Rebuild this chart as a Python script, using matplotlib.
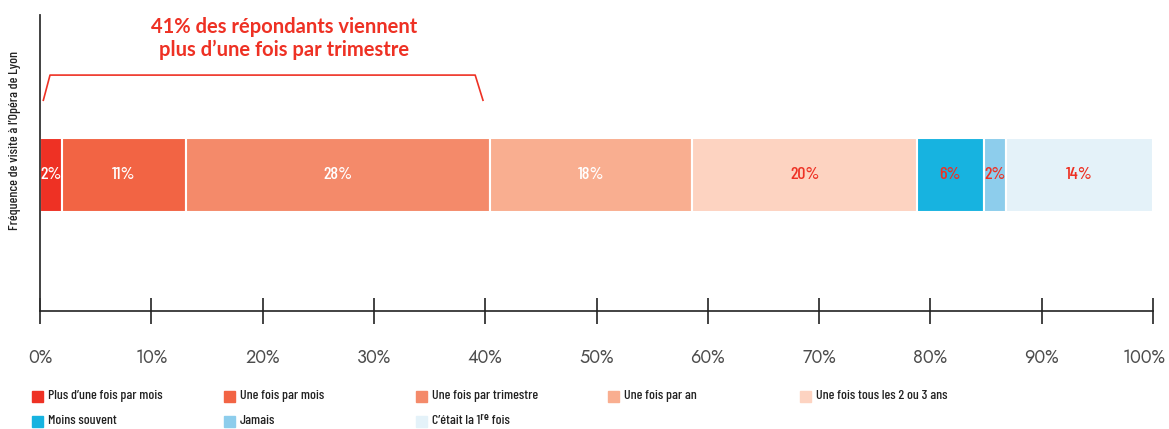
import matplotlib
matplotlib.use("Agg")
import matplotlib.pyplot as plt
from matplotlib.patches import Rectangle
from matplotlib.transforms import ScaledTranslation

# data
categories = ["Plus d\u2019une fois par mois", "Une fois par mois", "Une fois par trimestre",
              "Une fois par an", "Une fois tous les 2 ou 3 ans", "Moins souvent",
              "Jamais", "C\u2019\u00e9tait la 1\u02b3\u1d49 fois"]
values = [2.0, 11.1, 27.3, 18.2, 20.2, 6.0, 2.0, 13.2]
value_labels = ["2%", "11%", "28%", "18%", "20%", "6%", "2%", "14%"]
colors = ["#EE3124", "#F26444", "#F48A6A", "#F9AE90", "#FDD3C1", "#17B3E0", "#8DCDEC", "#E4F2F9"]
label_colors = ["white", "white", "white", "white", "#EE3124", "#EE3124", "#EE3124", "#EE3124"]
xticks = [0, 10, 20, 30, 40, 50, 60, 70, 80, 90, 100]

RED = "#EE3124"
NARROW = ["Barlow Condensed", "Roboto Condensed", "Asap Condensed", "Archivo Narrow", "DejaVu Sans"]
GEOM = ["Jost", "Lato", "DejaVu Sans"]

fig = plt.figure(figsize=(11.69, 4.29), dpi=100)
ax = fig.add_axes([40/1169, 1-311/429, 1113/1169, 296/429])

left = 0
for v, c, lab, lc in zip(values, colors, value_labels, label_colors):
    ax.barh(0, v, left=left, height=1, color=c, edgecolor="white", linewidth=1.5)
    ax.text(left + v/2, 0, lab, ha="center", va="center", color=lc,
            fontsize=13, family=NARROW, fontweight="medium")
    left += v

ax.set_xlim(0, 100)
ax.set_ylim(-1.838, 2.162)
ax.set_yticks([])
ax.set_xticks(xticks)
ax.set_xticklabels([f"{t}%" for t in xticks], fontsize=13, color="#4d4d4d",
                   family=GEOM, fontweight="light")
ax.tick_params(axis="x", direction="inout", length=19, width=1.2, pad=17, color="#222222")
last = ax.get_xticklabels()[-1]
last.set_transform(last.get_transform() + ScaledTranslation(-9/100, 0, fig.dpi_scale_trans))
for s in ["top", "right"]:
    ax.spines[s].set_visible(False)
ax.spines["left"].set_color("#333333")
ax.spines["left"].set_linewidth(1.3)
ax.spines["bottom"].set_color("#222222")
ax.spines["bottom"].set_linewidth(1.2)

# bracket over the first three segments
ax.plot([0.3, 0.9, 39.1, 39.8], [1.01, 1.35, 1.35, 1.01], color=RED, lw=1.2, clip_on=False)
ax.text(21.9, 1.845, "41% des répondants viennent\nplus d\u2019une fois par trimestre",
        ha="center", va="center", color=RED, fontsize=14.5, fontweight="bold",
        family=["Lato", "DejaVu Sans"], linespacing=1.2)

fig.text(15/1169, 1-141/429, "Fréquence de visite à l\u2019Opéra de Lyon", rotation=90,
         ha="center", va="center", color="#222222", fontsize=10, family=NARROW,
         fontweight="medium")

# legend
col_x = [32, 224, 416, 608, 800]
row_y = [396, 421]
for i, (cat, c) in enumerate(zip(categories, colors)):
    x = col_x[i % 5]
    y = row_y[i // 5]
    fig.patches.append(Rectangle((x/1169, 1-(y+5.5)/429), 11/1169, 11/429,
                                 transform=fig.transFigure, color=c))
    fig.text((x+16)/1169, 1-y/429, cat, ha="left", va="center",
             color="#222222", fontsize=10, family=NARROW, fontweight="medium")

fig.savefig("out.png", dpi=100)
